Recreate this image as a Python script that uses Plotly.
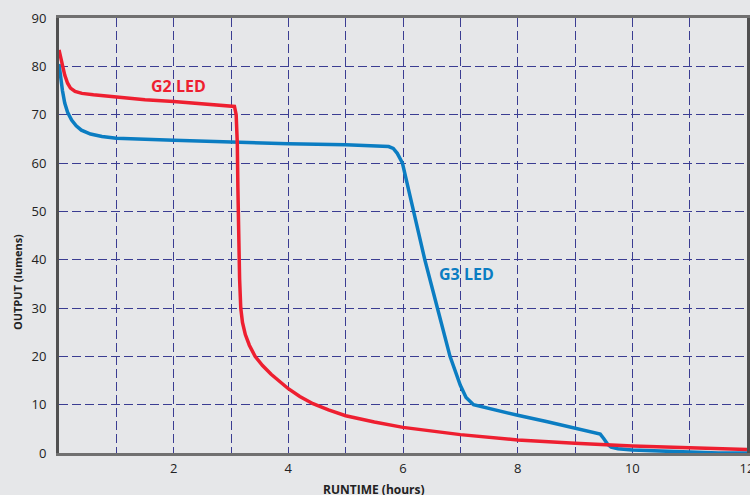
import plotly.graph_objects as go

# G2 LED runtime curve (hours, lumens)
g2_hours = [0, 0.05, 0.1, 0.15, 0.2, 0.28, 0.4, 0.6, 1.0, 1.5, 2.0, 2.5, 3.0, 3.06, 3.09,
            3.11, 3.12, 3.13, 3.15, 3.17, 3.2, 3.25, 3.32, 3.42, 3.55, 3.7, 3.85, 4.0, 4.2, 4.43,
            4.7, 5, 5.5, 6, 7, 8, 9, 10, 11, 12]
g2_lumens = [83.4, 80.5, 78.2, 76.5, 75.5, 74.8, 74.4, 74.1, 73.6, 73.1, 72.7, 72.3, 71.9, 71.7, 70,
             64, 55, 45, 36, 30, 27, 24.5, 22.3, 20, 18.1, 16.3, 14.7, 13.3, 11.7, 10.2,
             8.9, 7.7, 6.4, 5.3, 3.8, 2.7, 2.0, 1.45, 1.1, 0.75]

# G3 LED runtime curve (hours, lumens)
g3_hours = [0, 0.03, 0.06, 0.1, 0.15, 0.22, 0.3, 0.39, 0.55, 0.75, 1.0, 2.0, 3.0, 4.0, 5.0,
            5.6, 5.75, 5.83, 5.9, 5.99, 6.18, 6.38, 6.6, 6.82, 7.0, 7.1, 7.23, 7.5, 8.0,
            8.5, 9.0, 9.44, 9.5, 9.57, 9.63, 9.75, 10, 10.5, 11, 11.5, 12]
g3_lumens = [80.5, 77.5, 75, 72.4, 70.5, 68.9, 67.7, 66.8, 66.0, 65.5, 65.1, 64.7, 64.3, 64.0, 63.8,
             63.6, 63.4, 63.0, 62, 60, 50, 40, 30, 20, 14, 11.5, 10.0, 9.2, 7.8,
             6.5, 5.1, 3.9, 3.0, 1.8, 1.2, 0.9, 0.6, 0.4, 0.2, 0.0, 0.0]

x_ticks = list(range(0, 13))
x_tick_text = ["" if (v % 2 or v == 0) else str(v) for v in x_ticks]
y_ticks = list(range(0, 91, 10))

RED = "#ee1f30"
BLUE = "#0b7dc2"
GRID = "#3b3d92"
BG = "#e6e7e9"
FONT = "Open Sans"

fig = go.Figure()
fig.add_trace(go.Scatter(x=g3_hours, y=g3_lumens, mode="lines",
                         line=dict(color=BLUE, width=3.5), name="G3 LED"))
fig.add_trace(go.Scatter(x=g2_hours, y=g2_lumens, mode="lines",
                         line=dict(color=RED, width=3.5), name="G2 LED"))

fig.add_annotation(x=2.08, y=75.9, text="<b>G2 LED</b>", showarrow=False,
                   xanchor="center", yanchor="middle",
                   font=dict(family=FONT, size=16, color=RED))
fig.add_annotation(x=7.1, y=37.0, text="<b>G3 LED</b>", showarrow=False,
                   xanchor="center", yanchor="middle",
                   font=dict(family=FONT, size=16, color=BLUE))

fig.add_annotation(xref="paper", yref="paper", x=-0.061, y=0.393, text="<b>OUTPUT (lumens)</b>",
                   textangle=-90, showarrow=False, xanchor="center", yanchor="middle",
                   font=dict(family=FONT, size=11, color="#222"))
fig.add_annotation(xref="paper", yref="paper", x=0.458, y=-0.083, text="<b>RUNTIME (hours)</b>",
                   showarrow=False, xanchor="center", yanchor="middle",
                   font=dict(family=FONT, size=12, color="#222"))

fig.update_layout(
    width=750, height=495,
    margin=dict(l=59, r=3, t=18, b=42, autoexpand=False),
    paper_bgcolor=BG, plot_bgcolor=BG,
    showlegend=False,
    font=dict(family=FONT, size=13, color="#222"),
)
fig.update_xaxes(range=[0, 12], tickvals=x_ticks, ticktext=x_tick_text,
                 showgrid=True, gridcolor=GRID, gridwidth=1, griddash="9px,4px",
                 showline=True, linecolor="#707070", linewidth=3, mirror=True,
                 zeroline=False, ticks="", ticklabelstandoff=1, automargin=False,
                 ticklabeloverflow="allow",
                 tickfont=dict(family=FONT, size=13, color="#222"))
fig.update_yaxes(range=[0, 90], tickvals=y_ticks,
                 showgrid=True, gridcolor=GRID, gridwidth=1, griddash="9px,4px",
                 showline=True, linecolor="#505050", linewidth=3, mirror=True,
                 zeroline=False, ticks="", ticklabelstandoff=7, automargin=False,
                 ticklabeloverflow="allow",
                 tickfont=dict(family=FONT, size=13, color="#222"))

fig.write_html(
    "out.html",
    config={"displayModeBar": False},
    post_script="document.body.style.margin='0';document.body.style.background='#e6e7e9';",
)
